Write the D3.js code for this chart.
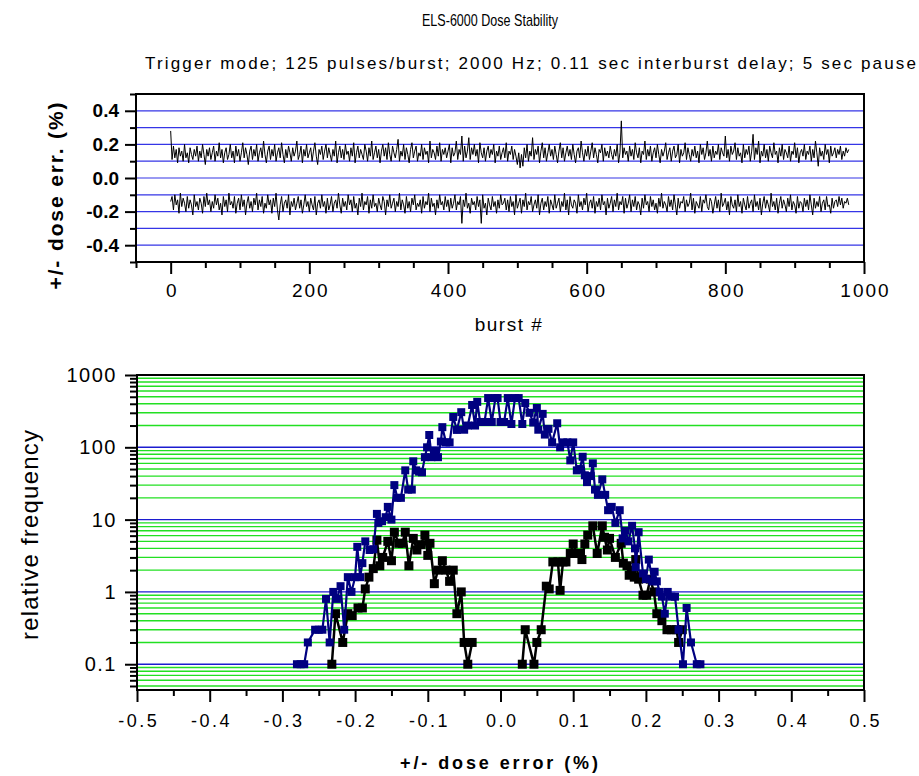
<!DOCTYPE html>
<html>
<head>
<meta charset="utf-8">
<script src="https://cdn.jsdelivr.net/npm/d3@7"></script>
<style>
  body { margin: 0; background: #fff; }
  text { font-family: "Liberation Sans", Arial, sans-serif; }
</style>
</head>
<body>
<div id="canvas"></div>
<script>
"use strict"

// burst data (dose error in %, one value every 2 bursts)
let burstStep = 2;
let upperErr = [
  .28,.11,.19,.12,.17,.09,.18,.13,.16,.10, .20,.12,.15,.09,.18,.14,.11,.17,.13,.19,
  .10,.16,.12,.20,.14,.08,.17,.13,.18,.11, .15,.19,.10,.16,.13,.21,.12,.17,.09,.15,
  .18,.11,.14,.20,.12,.16,.09,.19,.13,.17, .10,.15,.21,.12,.18,.14,.08,.16,.19,.11,
  .17,.13,.20,.10,.15,.18,.12,.22,.14,.09, .16,.19,.11,.17,.13,.20,.10,.15,.18,.12,
  .21,.14,.09,.17,.12,.19,.15,.10,.18,.13, .16,.22,.11,.14,.19,.09,.17,.13,.20,.12,
  .15,.18,.10,.16,.21,.13,.08,.17,.14,.19, .11,.16,.20,.12,.18,.14,.10,.17,.13,.22,
  .09,.15,.19,.12,.17,.11,.20,.14,.16,.10, .18,.13,.21,.09,.15,.19,.12,.17,.14,.11,
  .20,.16,.10,.18,.13,.22,.11,.15,.19,.12, .17,.09,.16,.20,.13,.18,.11,.21,.14,.10,
  .19,.15,.12,.17,.23,.10,.16,.13,.20,.11, .18,.14,.09,.17,.21,.12,.16,.19,.10,.15,
  .13,.20,.11,.18,.14,.16,.09,.22,.12,.17, .15,.11,.19,.13,.21,.10,.17,.14,.18,.12,
  .16,.20,.09,.18,.13,.15,.22,.11,.17,.14, .25,.10,.19,.12,.16,.24,.11,.18,.14,.20,
  .13,.17,.09,.21,.15,.12,.18,.10,.16,.19, .12,.17,.14,.20,.09,.16,.13,.19,.11,.15,
  .18,.12,.21,.10,.16,.14,.19,.11,.17,.13, .08,.15,.06,.14,.07,.18,.12,.20,.10,.16,
  .13,.24,.11,.17,.14,.19,.09,.16,.21,.12, .18,.10,.15,.20,.13,.17,.11,.19,.14,.09,
  .16,.21,.12,.18,.10,.15,.19,.13,.17,.11, .20,.14,.09,.16,.18,.12,.22,.15,.10,.17,
  .13,.19,.11,.16,.21,.12,.18,.14,.09,.17, .15,.20,.10,.18,.13,.16,.12,.19,.14,.11,
  .17,.13,.20,.09,.15,.34,.12,.18,.14,.16, .10,.19,.13,.17,.11,.21,.15,.12,.18,.09,
  .16,.14,.22,.11,.17,.13,.19,.10,.15,.18, .12,.20,.14,.09,.17,.13,.16,.21,.11,.15,
  .18,.10,.16,.19,.12,.14,.20,.09,.17,.13, .15,.21,.11,.18,.14,.10,.17,.13,.19,.12,
  .16,.09,.20,.14,.18,.11,.15,.22,.13,.17, .10,.19,.12,.16,.14,.20,.11,.18,.15,.13,
  .25,.12,.17,.10,.19,.14,.16,.21,.11,.18, .13,.15,.09,.20,.12,.17,.14,.19,.10,.16,
  .26,.11,.18,.14,.22,.09,.16,.13,.20,.12, .17,.10,.19,.15,.12,.21,.14,.16,.09,.18,
  .13,.20,.11,.17,.15,.12,.19,.10,.16,.14, .21,.12,.18,.09,.15,.17,.13,.20,.11,.16,
  .14,.19,.10,.17,.12,.22,.15,.07,.18,.13, .16,.11,.20,.14,.17,.09,.19,.13,.15,.18,
  .12,.17,.14,.19,.11,.16,.13,.18,.15,.17
];
let lowerErr = [
  -.14,-.11,-.19,-.10,-.16,-.13,-.21,-.09,-.17,-.12, -.15,-.20,-.11,-.18,-.13,-.16,-.22,-.10,-.17,-.14,
  -.19,-.12,-.15,-.21,-.11,-.17,-.09,-.16,-.13,-.20, -.14,-.18,-.10,-.16,-.12,-.19,-.15,-.22,-.11,-.17,
  -.13,-.20,-.09,-.16,-.14,-.18,-.11,-.21,-.15,-.12, -.19,-.10,-.17,-.13,-.22,-.15,-.11,-.18,-.14,-.20,
  -.12,-.16,-.09,-.19,-.13,-.17,-.11,-.21,-.15,-.18, -.10,-.16,-.13,-.21,-.12,-.17,-.09,-.19,-.25,-.16,
  -.11,-.20,-.15,-.13,-.18,-.10,-.22,-.14,-.17,-.12, -.19,-.15,-.11,-.18,-.13,-.21,-.16,-.10,-.17,-.14,
  -.20,-.12,-.16,-.19,-.11,-.22,-.15,-.13,-.18,-.10, -.17,-.14,-.21,-.12,-.19,-.16,-.11,-.20,-.15,-.13,
  -.18,-.09,-.16,-.21,-.12,-.17,-.14,-.19,-.10,-.16, -.13,-.20,-.11,-.18,-.15,-.22,-.12,-.17,-.09,-.19,
  -.14,-.16,-.11,-.21,-.13,-.18,-.10,-.17,-.15,-.20, -.12,-.16,-.19,-.11,-.14,-.22,-.13,-.17,-.10,-.18,
  -.15,-.12,-.20,-.14,-.17,-.09,-.19,-.13,-.16,-.21, -.11,-.18,-.14,-.20,-.12,-.16,-.10,-.19,-.15,-.17,
  -.13,-.21,-.11,-.18,-.14,-.16,-.09,-.20,-.12,-.17, -.15,-.22,-.13,-.18,-.10,-.16,-.14,-.19,-.11,-.17,
  -.13,-.20,-.12,-.18,-.15,-.10,-.19,-.14,-.16,-.11, -.27,-.13,-.17,-.09,-.18,-.15,-.21,-.12,-.16,-.14,
  -.19,-.11,-.17,-.13,-.27,-.10,-.18,-.15,-.22,-.12, -.16,-.19,-.11,-.17,-.14,-.21,-.13,-.18,-.10,-.16,
  -.15,-.12,-.19,-.13,-.20,-.11,-.17,-.14,-.22,-.10, -.18,-.15,-.12,-.21,-.13,-.17,-.09,-.19,-.14,-.16,
  -.11,-.20,-.16,-.13,-.18,-.10,-.22,-.15,-.12,-.19, -.14,-.17,-.11,-.21,-.13,-.16,-.19,-.10,-.18,-.15,
  -.12,-.20,-.14,-.17,-.09,-.19,-.13,-.22,-.11,-.16, -.18,-.13,-.15,-.21,-.10,-.17,-.14,-.19,-.12,-.16,
  -.09,-.20,-.15,-.13,-.18,-.11,-.21,-.14,-.17,-.12, -.19,-.10,-.16,-.14,-.22,-.12,-.18,-.15,-.11,-.20,
  -.13,-.17,-.09,-.19,-.14,-.16,-.11,-.21,-.12,-.18, -.15,-.10,-.20,-.13,-.17,-.11,-.19,-.14,-.16,-.22,
  -.12,-.18,-.10,-.16,-.14,-.20,-.11,-.17,-.13,-.19, -.15,-.21,-.12,-.17,-.09,-.18,-.14,-.16,-.20,-.11,
  -.17,-.13,-.19,-.10,-.16,-.22,-.12,-.18,-.14,-.15, -.11,-.20,-.13,-.17,-.15,-.09,-.19,-.12,-.21,-.14,
  -.16,-.18,-.11,-.20,-.13,-.15,-.10,-.17,-.19,-.12, -.14,-.21,-.16,-.11,-.18,-.13,-.20,-.09,-.17,-.15,
  -.12,-.19,-.14,-.22,-.11,-.16,-.18,-.13,-.20,-.10, -.17,-.14,-.21,-.12,-.16,-.19,-.11,-.18,-.15,-.13,
  -.20,-.10,-.17,-.14,-.19,-.12,-.22,-.15,-.11,-.18, -.13,-.16,-.20,-.09,-.17,-.14,-.19,-.12,-.21,-.15,
  -.11,-.18,-.13,-.16,-.20,-.12,-.17,-.10,-.19,-.14, -.16,-.21,-.11,-.18,-.14,-.15,-.20,-.12,-.17,-.13,
  -.19,-.10,-.16,-.22,-.12,-.18,-.14,-.17,-.11,-.20, -.15,-.13,-.19,-.11,-.17,-.16,-.21,-.12,-.18,-.14,
  -.13,-.17,-.11,-.16,-.12,-.18,-.14,-.15,-.12,-.16
];

// histogram data (dose error bin, relative frequency)
let blueErr = [
  -0.280,-0.275,-0.270,-0.265,-0.255,-0.250,-0.245,-0.240,-0.235,-0.230,
  -0.225,-0.220,-0.215,-0.210,-0.205,-0.200,-0.197,-0.193,-0.190,-0.186,
  -0.180,-0.175,-0.170,-0.168,-0.163,-0.158,-0.155,-0.150,-0.146,-0.142,
  -0.137,-0.131,-0.127,-0.122,-0.120,-0.116,-0.112,-0.108,-0.104,-0.101,
  -0.098,-0.095,-0.090,-0.086,-0.082,-0.080,-0.075,-0.070,-0.065,-0.060,
  -0.054,-0.050,-0.045,-0.039,-0.035,-0.032,-0.028,-0.022,-0.017,-0.012,
  -0.007,-0.004,0.000,0.005,0.010,0.015,0.020,0.025,0.030,0.034,
  0.040,0.045,0.050,0.052,0.058,0.061,0.066,0.071,0.078,0.082,
  0.086,0.092,0.096,0.100,0.105,0.109,0.113,0.116,0.119,0.124,
  0.127,0.130,0.134,0.140,0.144,0.148,0.153,0.158,0.164,0.168,
  0.172,0.176,0.181,0.185,0.186,0.190,0.196,0.200,0.204,0.209,
  0.212,0.215,0.219,0.222,0.226,0.230,0.235,0.240,0.245,0.251,
  0.256,0.262,0.270,0.275
];
let blueFreq = [
  0.1,0.1,0.1,0.2,0.3,0.3,0.3,0.8,0.2,1.0,
  0.8,1.2,0.3,1.6,1.0,1.6,4.2,1.6,2.5,5,
  3.8,3.9,12,9,9.5,10.8,15,10,30,20,
  20,48,26,26,64,48,46,45,73,100,
  148,73,90,73,120,190,117,117,263,174,
  306,175,200,385,200,425,224,224,480,224,
  480,480,224,224,480,210,480,480,210,410,
  300,220,350,175,290,150,180,117,215,100,
  117,117,66,117,48,50,74,41,33,40,
  60,26,22,36,22,13.5,15,9,13.5,5.5,
  7,5,8.2,4,2.2,6.7,1.8,1.5,2.8,1.4,
  1.9,1.4,1.0,0.86,0.5,1.0,0.86,0.86,0.3,0.1,
  0.6,0.2,0.1,0.1
];
let blackErr = [
  -0.232,-0.227,-0.217,-0.210,-0.204,-0.196,-0.190,-0.186,-0.181,-0.175,
  -0.170,-0.166,-0.162,-0.155,-0.150,-0.146,-0.140,-0.135,-0.131,-0.126,
  -0.120,-0.115,-0.110,-0.104,-0.100,-0.097,-0.091,-0.086,-0.080,-0.075,
  -0.070,-0.065,-0.060,-0.054,-0.050,-0.045,-0.039,-0.020,0.000,0.020,
  0.030,0.034,0.046,0.050,0.056,0.063,0.067,0.072,0.079,0.082,
  0.086,0.090,0.096,0.100,0.105,0.110,0.112,0.116,0.120,0.127,
  0.133,0.140,0.143,0.147,0.150,0.158,0.166,0.169,0.174,0.177,
  0.181,0.184,0.186,0.190,0.196,0.201,0.206,0.211,0.215,0.222,
  0.229,0.235,0.242,0.245,0.250
];
let blackFreq = [
  0.1,0.5,0.2,0.5,0.47,0.6,0.6,1.1,1.6,2.1,
  5.2,2.3,3.0,5,2.7,6.7,4.7,4.7,6.7,2.3,
  5.5,3.8,4.5,6.1,3.2,4.7,1.3,2.0,2.7,2.0,
  1.4,2.0,0.5,1.0,0.2,0.1,0.2,0,0,0,
  0.1,0.3,0.1,0.2,0.3,1.2,1.1,2.6,2.6,1.05,
  2.6,2.6,3.4,4.6,3.4,3.4,2.8,4.6,6.1,8.2,
  3.4,8.2,5.7,3.8,5.5,3.0,4.7,2.5,2.3,1.7,
  2.0,1.6,2.8,1.5,0.9,0.9,1.5,1.0,0.5,0.4,
  0.3,0.3,0.3,0.2,0.3
];

// tick labels
let topXTicks = [0, 200, 400, 600, 800, 1000];
let topYTicks = [-0.4, -0.2, 0.0, 0.2, 0.4];
let botXTicks = [-0.5, -0.4, -0.3, -0.2, -0.1, 0.0, 0.1, 0.2, 0.3, 0.4, 0.5];
let botYTicks = [0.1, 1, 10, 100, 1000];

let font = "'Liberation Sans', Arial, sans-serif";
let narrowFont = "'Liberation Sans Narrow', 'Arial Narrow', 'Liberation Sans', sans-serif";

let drawing = d3.select("#canvas")
    .append("svg")
    .attr("width", 919)
    .attr("height", 776);

drawing.append("rect").attr("width", 919).attr("height", 776).attr("fill", "white");

// titles
drawing.append("text")
    .attr("x", 490).attr("y", 26)
    .attr("text-anchor", "middle")
    .attr("font-size", 17)
    .attr("textLength", 136)
    .attr("lengthAdjust", "spacingAndGlyphs")
    .style("font-family", narrowFont)
    .text("ELS-6000 Dose Stability");

drawing.append("text")
    .attr("x", 145).attr("y", 69)
    .attr("font-size", 17)
    .attr("textLength", 771)
    .attr("lengthAdjust", "spacing")
    .style("font-family", narrowFont)
    .text("Trigger mode; 125 pulses/burst; 2000 Hz; 0.11 sec interburst delay; 5 sec pause");

/* ---------- top panel: dose error vs burst ---------- */

let topX = d3.scaleLinear().domain([-50, 1000]).range([136, 864]);
let topY = d3.scaleLinear().domain([-0.5, 0.5]).range([262, 94]);

// blue grid lines every 0.1
let topGrid = d3.range(-4, 5).map(d => d / 10);
drawing.append("g").selectAll("line")
    .data(topGrid)
    .join("line")
    .attr("x1", topX(-50)).attr("x2", topX(1000))
    .attr("y1", d => topY(d)).attr("y2", d => topY(d))
    .attr("stroke", "#3535e6")
    .attr("stroke-width", 1.2);

let burstLine = d3.line()
    .x((d, i) => topX(i * burstStep))
    .y(d => topY(d));

drawing.append("path")
    .attr("d", burstLine(upperErr))
    .attr("fill", "none")
    .attr("stroke", "black")
    .attr("stroke-width", 1);

drawing.append("path")
    .attr("d", burstLine(lowerErr))
    .attr("fill", "none")
    .attr("stroke", "black")
    .attr("stroke-width", 1);

// frame
drawing.append("rect")
    .attr("x", 136).attr("y", 94)
    .attr("width", 728).attr("height", 168)
    .attr("fill", "none").attr("stroke", "black").attr("stroke-width", 2);

// top axes (major + minor ticks)
let topYMinor = [-0.5, -0.3, -0.1, 0.1, 0.3, 0.5];
let topXMinor = d3.range(-50, 1001, 50).filter(d => d % 200 != 0);

let topYAxis = drawing.append("g").attr("transform", "translate(136,0)")
    .call(d3.axisLeft(topY).tickValues(topYTicks).tickSize(11).tickPadding(6)
        .tickFormat(d3.format(".1f")));
let topYAxisMinor = drawing.append("g").attr("transform", "translate(136,0)")
    .call(d3.axisLeft(topY).tickValues(topYMinor).tickSize(6).tickFormat(""));

let topXAxis = drawing.append("g").attr("transform", "translate(0,262)")
    .call(d3.axisBottom(topX).tickValues(topXTicks).tickSize(12).tickPadding(10)
        .tickFormat(d3.format("d")));
let topXAxisMinor = drawing.append("g").attr("transform", "translate(0,262)")
    .call(d3.axisBottom(topX).tickValues(topXMinor).tickSize(6).tickFormat(""));

topYAxis.selectAll("text")
    .attr("font-size", 19).attr("font-weight", "bold").attr("fill", "black")
    .text(d => d3.format(".1f")(d).replace("−", "-"))
    .style("font-family", font);
topXAxis.selectAll("text")
    .attr("font-size", 19).attr("fill", "black")
    .attr("letter-spacing", 2).attr("dx", 1)
    .style("font-family", font);

drawing.append("text")
    .attr("transform", "translate(63,196) rotate(-90)")
    .attr("text-anchor", "middle")
    .attr("font-size", 21)
    .attr("font-weight", "bold")
    .attr("textLength", 187)
    .attr("lengthAdjust", "spacing")
    .style("font-family", font)
    .text("+/- dose err. (%)");

drawing.append("text")
    .attr("x", 509).attr("y", 331)
    .attr("text-anchor", "middle")
    .attr("font-size", 19)
    .attr("letter-spacing", 1.5)
    .style("font-family", font)
    .text("burst #");

/* ---------- bottom panel: histogram on log scale ---------- */

let botX = d3.scaleLinear().domain([-0.5, 0.5]).range([137, 864]);
let botY = d3.scaleLog().domain([0.044, 1000]).range([690, 375]);

// minor (green) and decade (blue) grid lines
let botMinor = [];
[0.01, 0.1, 1, 10, 100].forEach(dec => {
    for (let m = 2; m <= 9; m++) {
        let v = m * dec;
        if (v > 0.044 && v < 1000) botMinor.push(v);
    }
});
let botMajor = [0.1, 1, 10, 100];

drawing.append("g").selectAll("line")
    .data(botMinor)
    .join("line")
    .attr("x1", 137).attr("x2", 864)
    .attr("y1", d => botY(d)).attr("y2", d => botY(d))
    .attr("stroke", "#22e022")
    .attr("stroke-width", 1.4);

drawing.append("g").selectAll("line")
    .data(botMajor)
    .join("line")
    .attr("x1", 137).attr("x2", 864)
    .attr("y1", d => botY(d)).attr("y2", d => botY(d))
    .attr("stroke", "#1c1cd0")
    .attr("stroke-width", 1.4);

// black series (gap where frequency is 0)
let blackData = blackErr.map((x, i) => ({ x: x, y: blackFreq[i] }));
let blueData = blueErr.map((x, i) => ({ x: x, y: blueFreq[i] }));

let histLine = d3.line()
    .defined(d => d.y > 0)
    .x(d => botX(d.x))
    .y(d => botY(d.y));

drawing.append("path")
    .attr("d", histLine(blackData))
    .attr("fill", "none")
    .attr("stroke", "black")
    .attr("stroke-width", 2.5);

drawing.append("g").selectAll("rect")
    .data(blackData.filter(d => d.y > 0))
    .join("rect")
    .attr("x", d => botX(d.x) - 4.5)
    .attr("y", d => botY(d.y) - 4.5)
    .attr("width", 9).attr("height", 9)
    .attr("fill", "black");

drawing.append("path")
    .attr("d", histLine(blueData))
    .attr("fill", "none")
    .attr("stroke", "#000080")
    .attr("stroke-width", 2.2);

drawing.append("g").selectAll("rect")
    .data(blueData)
    .join("rect")
    .attr("x", d => botX(d.x) - 4)
    .attr("y", d => botY(d.y) - 4)
    .attr("width", 8).attr("height", 8)
    .attr("fill", "#000080");

// frame
drawing.append("rect")
    .attr("x", 137).attr("y", 375)
    .attr("width", 727).attr("height", 315)
    .attr("fill", "none").attr("stroke", "black").attr("stroke-width", 2);

// bottom axes
let botXMinor = d3.range(-9, 10, 2).map(d => d / 20);

let botYAxis = drawing.append("g").attr("transform", "translate(137,0)")
    .call(d3.axisLeft(botY).tickValues(botYTicks).tickSize(12).tickPadding(8)
        .tickFormat(d => d >= 1 ? d3.format("d")(d) : "0.1"));
let botYAxisMinor = drawing.append("g").attr("transform", "translate(137,0)")
    .call(d3.axisLeft(botY).tickValues(botMinor).tickSize(7).tickFormat(""));

let botXAxis = drawing.append("g").attr("transform", "translate(0,690)")
    .call(d3.axisBottom(botX).tickValues(botXTicks).tickSize(12).tickPadding(12)
        .tickFormat(d3.format(".1f")));
let botXAxisMinor = drawing.append("g").attr("transform", "translate(0,690)")
    .call(d3.axisBottom(botX).tickValues(botXMinor).tickSize(6).tickFormat(""));

botYAxis.selectAll("text")
    .attr("font-size", 20).attr("fill", "black")
    .attr("letter-spacing", 1.5)
    .style("font-family", font);
botXAxis.selectAll("text")
    .attr("font-size", 18).attr("fill", "black")
    .attr("letter-spacing", 2.5).attr("dx", 1.2)
    .text(d => d3.format(".1f")(d).replace("−", "-"))
    .style("font-family", font);

// all axes: thick black ticks, no domain path (frame is drawn)
drawing.selectAll(".domain").remove();
drawing.selectAll(".tick line").attr("stroke", "black").attr("stroke-width", 2);

drawing.append("text")
    .attr("transform", "translate(38,535) rotate(-90)")
    .attr("text-anchor", "middle")
    .attr("font-size", 24)
    .attr("textLength", 210)
    .attr("lengthAdjust", "spacing")
    .style("font-family", font)
    .text("relative frequency");

drawing.append("text")
    .attr("x", 499).attr("y", 769)
    .attr("text-anchor", "middle")
    .attr("font-size", 18)
    .attr("font-weight", "bold")
    .attr("textLength", 198)
    .attr("lengthAdjust", "spacing")
    .style("font-family", font)
    .text("+/- dose error (%)");
</script>
</body>
</html>
